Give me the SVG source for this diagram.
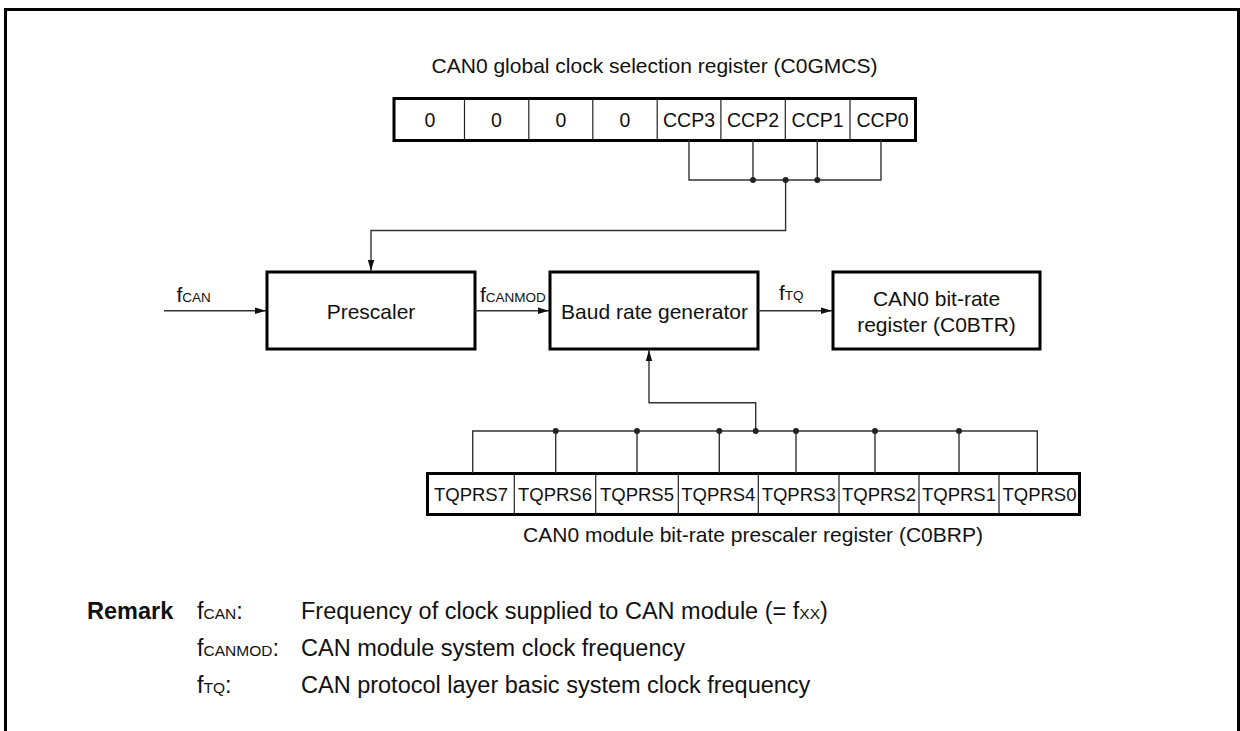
<svg xmlns="http://www.w3.org/2000/svg" width="1240" height="731" viewBox="0 0 1240 731">
<style>
text{font-family:"Liberation Sans",Arial,sans-serif;fill:#111}
.t{font-size:21px}
.m{font-size:23.5px}
.c{text-anchor:middle}
.r{font-size:19.5px;text-anchor:middle}
.q{font-size:18.5px;text-anchor:middle}
.s{font-size:13.5px}
.sm{font-size:15.5px}
.box{fill:#fff;stroke:#000;stroke-width:3}
.div{stroke:#222;stroke-width:1.2}
.ln{fill:none;stroke:#333;stroke-width:1.4}
.dot{fill:#222}
</style>
<defs>
<marker id="ah" markerWidth="12" markerHeight="8" refX="11" refY="4" orient="auto" markerUnits="userSpaceOnUse">
<path d="M0,0.8 L11,4 L0,7.2 Z" fill="#111"/>
</marker>
</defs>
<rect x="0" y="0" width="1240" height="731" fill="#fff"/>
<path d="M5.5,731 V9.5 H1238.5 V731" fill="none" stroke="#000" stroke-width="3"/>

<g id="reg-c0gmcs">
<text class="t c" x="654.5" y="72.5">CAN0 global clock selection register (C0GMCS)</text>
<rect class="box" x="394" y="98.5" width="521.5" height="42"/>
<path class="div" d="M464.5,99V140 M528.8,99V140 M592.8,99V140 M657.2,99V140 M720.9,99V140 M785.3,99V140 M850,99V140"/>
<text class="r" x="430" y="126.5">0</text>
<text class="r" x="496.5" y="126.5">0</text>
<text class="r" x="561" y="126.5">0</text>
<text class="r" x="625" y="126.5">0</text>
<text class="r" x="689" y="126.5">CCP3</text>
<text class="r" x="753" y="126.5">CCP2</text>
<text class="r" x="817.6" y="126.5">CCP1</text>
<text class="r" x="882.5" y="126.5">CCP0</text>
</g>

<g id="prescaler">
<rect class="box" x="267" y="272" width="208" height="77"/>
<text class="t c" x="371" y="318.5">Prescaler</text>
</g>

<g id="baud">
<rect class="box" x="550" y="272" width="208" height="77"/>
<text class="t c" x="654.5" y="318.5">Baud rate generator</text>
</g>

<g id="c0btr">
<rect class="box" x="833" y="272" width="207" height="77"/>
<text class="t c" x="936.5" y="306">CAN0 bit-rate</text>
<text class="t c" x="936.5" y="331.5">register (C0BTR)</text>
</g>

<g id="reg-c0brp">
<rect class="box" x="427.5" y="473.5" width="652" height="41"/>
<path class="div" d="M514.3,474V514 M595.7,474V514 M678.3,474V514 M758.3,474V514 M839,474V514 M919,474V514 M999,474V514"/>
<text class="q" x="471" y="501">TQPRS7</text>
<text class="q" x="555" y="501">TQPRS6</text>
<text class="q" x="637" y="501">TQPRS5</text>
<text class="q" x="718.3" y="501">TQPRS4</text>
<text class="q" x="798.7" y="501">TQPRS3</text>
<text class="q" x="879" y="501">TQPRS2</text>
<text class="q" x="959" y="501">TQPRS1</text>
<text class="q" x="1039.5" y="501">TQPRS0</text>
<text class="t c" x="753" y="542">CAN0 module bit-rate prescaler register (C0BRP)</text>
</g>

<g id="connectors">
<path class="ln" d="M689,140 V180 H881 V140 M753,140 V180 M817.3,140 V180"/>
<path class="ln" d="M785.6,180 V230.5 H371 V271" marker-end="url(#ah)"/>
<path class="ln" d="M164,310.7 H266" marker-end="url(#ah)"/>
<path class="ln" d="M475,310.7 H549" marker-end="url(#ah)"/>
<path class="ln" d="M758,310.7 H832" marker-end="url(#ah)"/>
<path class="ln" d="M472.7,473 V431 H1037.3 V473 M555.7,431 V473 M637,431 V473 M719.3,431 V473 M796,431 V473 M875,431 V473 M959,431 V473"/>
<path class="ln" d="M755.7,431 V402.7 H649 V350" marker-end="url(#ah)"/>
<circle class="dot" cx="753" cy="180" r="3"/>
<circle class="dot" cx="785.6" cy="180" r="3"/>
<circle class="dot" cx="817.3" cy="180" r="3"/>
<circle class="dot" cx="555.7" cy="431" r="3"/>
<circle class="dot" cx="637" cy="431" r="3"/>
<circle class="dot" cx="719.3" cy="431" r="3"/>
<circle class="dot" cx="755.7" cy="431" r="3"/>
<circle class="dot" cx="796" cy="431" r="3"/>
<circle class="dot" cx="875" cy="431" r="3"/>
<circle class="dot" cx="959" cy="431" r="3"/>
<text class="t" x="176.5" y="302">f<tspan class="s">CAN</tspan></text>
<text class="t" x="480" y="302">f<tspan class="s">CANMOD</tspan></text>
<text class="t" x="779" y="300">f<tspan class="s">TQ</tspan></text>
</g>

<g id="remark">
<text class="m" x="87" y="619" style="font-weight:bold">Remark</text>
<text class="m" x="197" y="619">f<tspan class="sm">CAN</tspan>:</text>
<text class="m" x="301" y="619">Frequency of clock supplied to CAN module (= f<tspan class="sm">XX</tspan>)</text>
<text class="m" x="197" y="656">f<tspan class="sm">CANMOD</tspan>:</text>
<text class="m" x="301" y="656">CAN module system clock frequency</text>
<text class="m" x="197" y="693">f<tspan class="sm">TQ</tspan>:</text>
<text class="m" x="301" y="693">CAN protocol layer basic system clock frequency</text>
</g>
</svg>
